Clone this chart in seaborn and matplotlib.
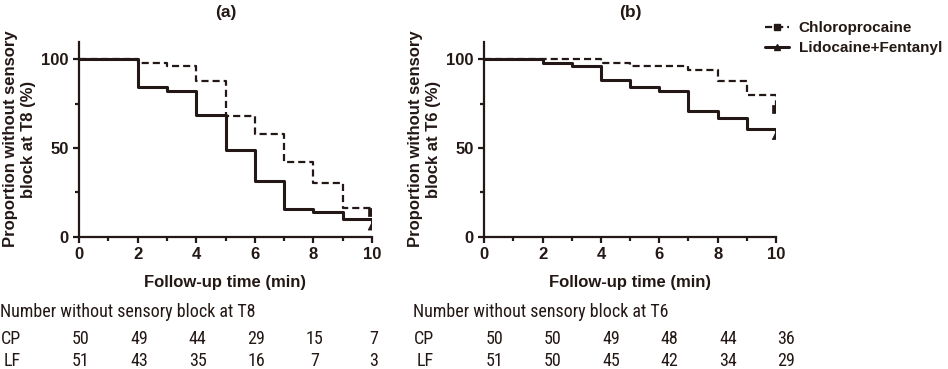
import numpy as np
import pandas as pd
import matplotlib
matplotlib.use("Agg")
import matplotlib.pyplot as plt
import matplotlib.transforms as mtransforms
from matplotlib.lines import Line2D
from matplotlib import font_manager as fm
import seaborn as sns

sns.set_theme(style="white")
plt.rcParams['font.family'] = ['Liberation Sans', 'DejaVu Sans']

# ---------------- data ----------------
time = [0, 1, 2, 3, 4, 5, 6, 7, 8, 9, 10]
groups = ["Chloroprocaine", "Lidocaine+Fentanyl"]
a_cp = [100, 100, 98, 96, 88, 68, 58, 42, 30, 16, 14]
a_lf = [100, 100, 84.3, 82.4, 68.6, 49.0, 31.4, 15.7, 13.7, 9.8, 5.9]
b_cp = [100, 100, 100, 100, 98, 96, 96, 94, 88, 80, 72]
b_lf = [100, 100, 98.0, 96.1, 88.2, 84.3, 82.4, 70.6, 66.7, 60.8, 56.9]

titles = ["(a)", "(b)"]
ylabels = ["Proportion without sensory\nblock at T8 (%)",
           "Proportion without sensory\nblock at T6 (%)"]
xlabel = "Follow-up time (min)"
xticks = [0, 2, 4, 6, 8, 10]
yticks = [0, 50, 100]

table_titles = ["Number without sensory block at T8",
                "Number without sensory block at T6"]
row_labels = ["CP", "LF"]
table_times = [0, 2, 4, 6, 8, 10]
a_cp_n = [50, 49, 44, 29, 15, 7]
a_lf_n = [51, 43, 35, 16, 7, 3]
b_cp_n = [50, 50, 49, 48, 44, 36]
b_lf_n = [51, 50, 45, 42, 34, 29]

# ---------------- style ----------------
INK = "#231815"
W, H = 948, 369
fig = plt.figure(figsize=(W / 100, H / 100), dpi=100)

def px_axes(x0, x1, ybot, ytop):
    return fig.add_axes([x0 / W, 1 - ybot / H, (x1 - x0) / W, (ybot - ytop) / H])

ax_a = px_axes(79, 372, 236.7, 41.6)
ax_b = px_axes(484.3, 776, 236.7, 41.6)

panels = [(ax_a, a_cp, a_lf), (ax_b, b_cp, b_lf)]
for i, (ax, cp, lf) in enumerate(panels):
    df = pd.DataFrame({
        "time": time * 2,
        "surv": cp + lf,
        "group": [groups[0]] * len(time) + [groups[1]] * len(time),
    })
    sns.lineplot(data=df, x="time", y="surv", style="group", hue="group",
                 palette=[INK, INK], dashes={groups[0]: (3.2, 1.8), groups[1]: ""},
                 drawstyle="steps-post", ax=ax, legend=False)
    for ln, lw in zip(ax.get_lines(), [1.6, 2.2]):
        ln.set_linewidth(lw)
        ln.set_solid_capstyle("butt")
        ln.set_dash_capstyle("butt")
    end = df[df["time"] == time[-1]]
    sns.scatterplot(data=end, x="time", y="surv", style="group",
                    markers={groups[0]: "s", groups[1]: "^"},
                    color=INK, s=30, ax=ax, legend=False, edgecolor=INK, linewidth=0.5)

    ax.set_xlim(0, 10)
    ax.set_ylim(0, 110)
    ax.set_xticks(xticks)
    ax.set_yticks(yticks)
    ax.set_xticks([1, 3, 5, 7, 9], minor=True)
    ax.set_yticks([25, 75], minor=True)
    for s in ["top", "right"]:
        ax.spines[s].set_visible(False)
    for s in ["left", "bottom"]:
        ax.spines[s].set_linewidth(1.6)
        ax.spines[s].set_color(INK)
    ax.tick_params(which="major", direction="out", length=4.5, width=1.6,
                   color=INK, labelsize=12, labelcolor=INK, pad=3,
                   bottom=True, left=True)
    ax.tick_params(which="minor", direction="out", length=3, width=1.6,
                   color=INK, bottom=True, left=True)
    for lab in ax.get_xticklabels() + ax.get_yticklabels():
        lab.set_fontweight("bold")
    ax.set_xlabel(xlabel, fontsize=12, fontweight="bold", color=INK, labelpad=9)
    ax.set_ylabel(ylabels[i], fontsize=12, fontweight="bold", color=INK, labelpad=4)
    ax.set_title(titles[i], fontsize=12.5, fontweight="bold", color=INK, pad=18)
    ax.patch.set_alpha(0)

# legend
handles = [
    Line2D([], [], color=INK, lw=1.6, linestyle=(0, (3.2, 1.8)), marker="s", markersize=4,
           markevery=[1]),
    Line2D([], [], color=INK, lw=2.2, linestyle="-", marker="^", markersize=4,
           markevery=[1]),
]
fig.legend(handles, groups, loc="upper left", bbox_to_anchor=(765 / W, 1 - 21 / H),
           frameon=False, handlelength=1.55, handletextpad=0.65, labelspacing=0.4,
           borderpad=0, borderaxespad=0,
           prop={"weight": "bold", "size": 11})
for t in fig.legends[0].get_texts():
    t.set_color(INK)

# number-at-risk tables (condensed face if installed)
names = {f.name for f in fm.fontManager.ttflist}
narrow = [n for n in ["Liberation Sans Narrow", "DejaVu Sans Condensed", "Roboto Condensed",
                      "Open Sans Condensed"] if n in names]
tfont = narrow + ['Liberation Sans', 'DejaVu Sans']
tsize = 13 if narrow else 12.5
tables = [(ax_a, a_cp_n, a_lf_n, 0, 0.05), (ax_b, b_cp_n, b_lf_n, 413, 0.35)]
for k, (ax, cpn, lfn, x0px, dx) in enumerate(tables):
    fig.text(x0px / W, 1 - 312 / H, table_titles[k], ha="left", va="center",
             fontsize=tsize, family=tfont, color=INK)
    trans = mtransforms.blended_transform_factory(ax.transData, fig.transFigure)
    for r, (lab, vals, ypx, xoff) in enumerate(zip(row_labels, [cpn, lfn],
                                                     [339, 361], [1, 4])):
        fig.text((x0px + xoff) / W, 1 - ypx / H, lab, ha="left", va="center",
                 fontsize=tsize, family=tfont, color=INK)
        for tt, v in zip(table_times, vals):
            fig.text(tt + dx, 1 - ypx / H, str(v), ha="center", va="center",
                     fontsize=tsize, family=tfont, color=INK, transform=trans)

fig.savefig("out.png", dpi=100, facecolor="white")
